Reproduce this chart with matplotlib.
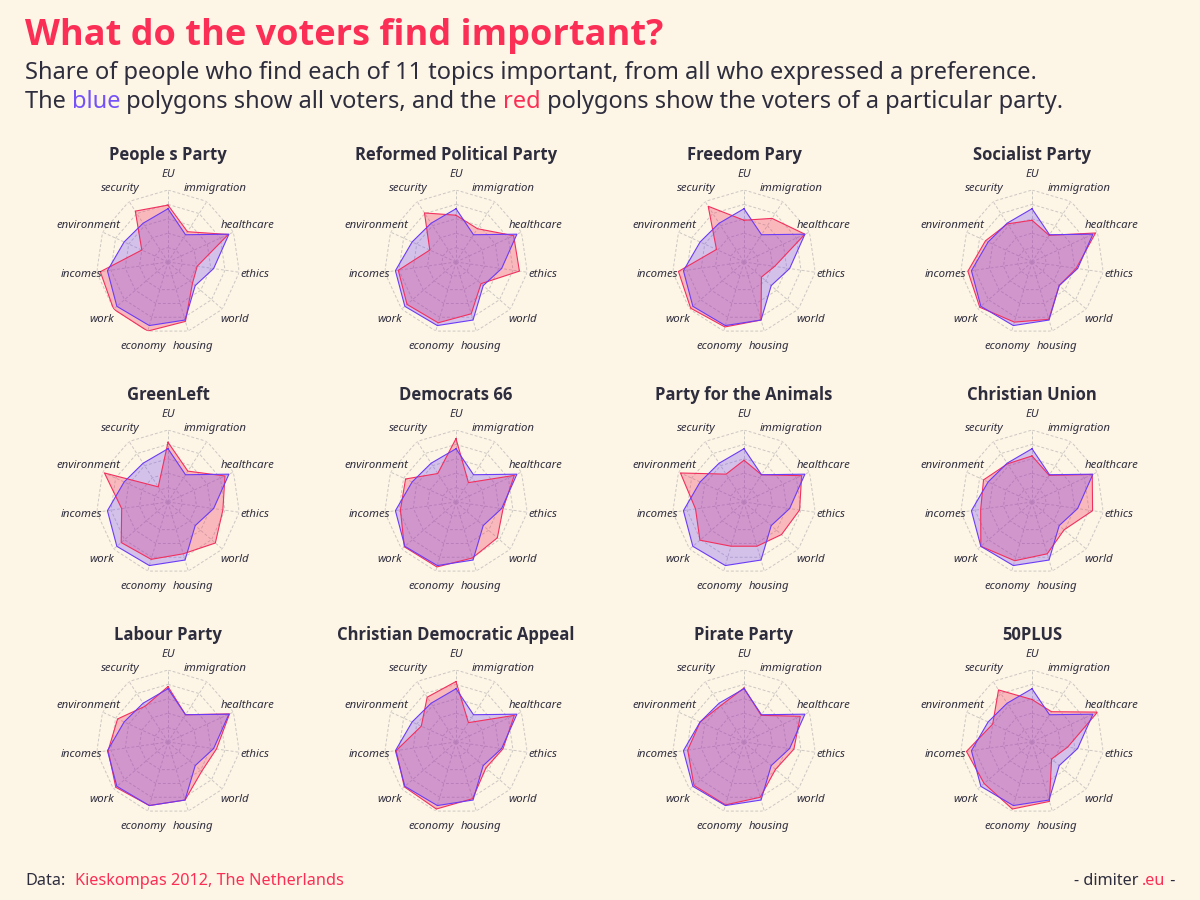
import matplotlib
matplotlib.use("Agg")
import matplotlib.pyplot as plt
import numpy as np

topics = ["EU", "immigration", "healthcare", "ethics", "world", "housing",
          "economy", "work", "incomes", "environment", "security"]

# share of all voters (blue polygon, same in every panel)
all_voters = [0.74, 0.45, 0.93, 0.64, 0.50, 0.84, 0.92, 0.94, 0.85, 0.67, 0.64]

parties = ["People s Party", "Reformed Political Party", "Freedom Pary", "Socialist Party",
           "GreenLeft", "Democrats 66", "Party for the Animals", "Christian Union",
           "Labour Party", "Christian Democratic Appeal", "Pirate Party", "50PLUS"]

vvd = [0.79, 0.50, 0.92, 0.41, 0.45, 0.86, 1.00, 1.00, 0.95, 0.40, 0.84]
sgp = [0.65, 0.55, 0.88, 0.89, 0.46, 0.75, 0.88, 0.90, 0.81, 0.40, 0.81]
pvv = [0.58, 0.72, 0.93, 0.43, 0.32, 0.84, 0.94, 0.98, 0.92, 0.42, 0.92]
sp = [0.58, 0.44, 0.97, 0.62, 0.50, 0.83, 0.87, 0.96, 0.90, 0.71, 0.63]
gl = [0.83, 0.51, 0.87, 0.77, 0.87, 0.75, 0.83, 0.86, 0.65, 0.97, 0.25]
d66 = [0.88, 0.32, 0.89, 0.66, 0.76, 0.81, 0.94, 0.95, 0.78, 0.77, 0.47]
pvdd = [0.58, 0.45, 0.88, 0.78, 0.69, 0.64, 0.64, 0.81, 0.68, 0.97, 0.46]
cu = [0.64, 0.44, 0.92, 0.85, 0.59, 0.75, 0.85, 0.94, 0.72, 0.74, 0.63]
pvda = [0.77, 0.45, 0.94, 0.68, 0.62, 0.84, 0.92, 0.96, 0.84, 0.77, 0.59]
cda = [0.84, 0.32, 0.89, 0.66, 0.55, 0.82, 0.97, 0.95, 0.84, 0.53, 0.74]
pp = [0.75, 0.44, 0.86, 0.70, 0.58, 0.80, 0.91, 0.92, 0.79, 0.67, 0.60]
plus50 = [0.59, 0.50, 1.00, 0.50, 0.36, 0.86, 0.97, 0.88, 0.92, 0.60, 0.86]

party_shares = [vvd, sgp, pvv, sp, gl, d66, pvdd, cu, pvda, cda, pp, plus50]

BG = "#FDF5E6"
DARK = "#2E2D3D"
PINK = "#FB2E55"
BLUE = "#6B3CF6"
RED = "#F2305E"
GRID = "#CBC7C2"

plt.rcParams["font.family"] = ["Noto Sans", "DejaVu Sans"]
BOLD = ["Open Sans", "DejaVu Sans"]

W, H = 1200, 900
fig = plt.figure(figsize=(12, 9), dpi=100, facecolor=BG)

# invisible full-figure axes for chained text
tax = fig.add_axes([0, 0, 1, 1])
tax.set_axis_off()
tax.set_xlim(0, W)
tax.set_ylim(H, 0)

angles = np.linspace(0, 2 * np.pi, len(topics), endpoint=False)
closed = np.append(angles, angles[0])

col_x = [168, 456, 744, 1032]
row_y = [262, 502, 742]
R = 72  # outer ring radius, px

for i, (name, shares) in enumerate(zip(parties, party_shares)):
    cx = col_x[i % 4]
    cy = row_y[i // 4]
    ax = fig.add_axes([(cx - R) / W, (H - cy - R) / H, 2 * R / W, 2 * R / H],
                      projection="polar")
    ax.set_facecolor("none")
    ax.set_theta_offset(np.pi / 2)
    ax.set_theta_direction(-1)
    ax.set_ylim(0, 1)
    ax.set_xticks([])
    ax.set_yticks([])
    ax.grid(False)
    ax.spines["polar"].set_visible(False)

    for r in [0.2, 0.4, 0.6, 0.8, 1.0]:
        ax.plot(closed, [r] * len(closed), color=GRID, lw=0.7, ls=(0, (3, 2)), zorder=1)
    for a in angles:
        ax.plot([a, a], [0, 1], color=GRID, lw=0.7, ls=(0, (3, 2)), zorder=1)

    red_vals = np.append(shares, shares[0])
    blue_vals = np.append(all_voters, all_voters[0])
    ax.fill(closed, red_vals, color=RED, alpha=0.3, lw=0, zorder=2)
    ax.plot(closed, red_vals, color=RED, lw=0.8, zorder=3)
    ax.fill(closed, blue_vals, color=BLUE, alpha=0.28, lw=0, zorder=2)
    ax.plot(closed, blue_vals, color=BLUE, lw=0.8, zorder=3)

    for a, lab in zip(angles, topics):
        ax.text(a, 1.22, lab, ha="center", va="center", fontsize=8.2,
                style="italic", color=DARK, clip_on=False)

    tax.text(cx, cy - 107, name, ha="center", va="center", family=BOLD,
             fontsize=12, fontweight="bold", color=DARK)

# header
tax.text(25, 36, "What do the voters find important?", ha="left", va="center",
         fontsize=26, fontweight="bold", color=PINK, family=BOLD)
tax.text(25, 73,
         "Share of people who find each of 11 topics important, from all who expressed a preference.",
         ha="left", va="center", fontsize=17, color=DARK)

pieces = [("The ", DARK), ("blue", "#7452F8"), (" polygons show all voters, and the ", DARK),
          ("red", PINK), (" polygons show the voters of a particular party.", DARK)]
prev = tax.text(25, 102, pieces[0][0], ha="left", va="center",
                fontsize=17, color=pieces[0][1])
for txt, c in pieces[1:]:
    prev = tax.annotate(txt, xy=(1, 0), xycoords=prev, va="bottom", ha="left",
                        fontsize=17, color=c, annotation_clip=False)

# footer
tax.text(25, 881, "Data:", ha="left", va="center", fontsize=11.7, color=DARK)
tax.text(75, 881, "Kieskompas 2012, The Netherlands", ha="left", va="center",
         fontsize=11.7, color=PINK)
t1 = tax.text(1175, 881, " -", ha="right", va="center", fontsize=11.7, color=DARK)
t2 = tax.annotate(".eu", xy=(0, 0), xycoords=t1, ha="right", va="bottom", fontsize=11.7,
                  color=PINK)
tax.annotate("- dimiter ", xy=(0, 0), xycoords=t2, ha="right", va="bottom", fontsize=11.7,
             color=DARK)

fig.savefig("out.png", dpi=100, facecolor=BG)
